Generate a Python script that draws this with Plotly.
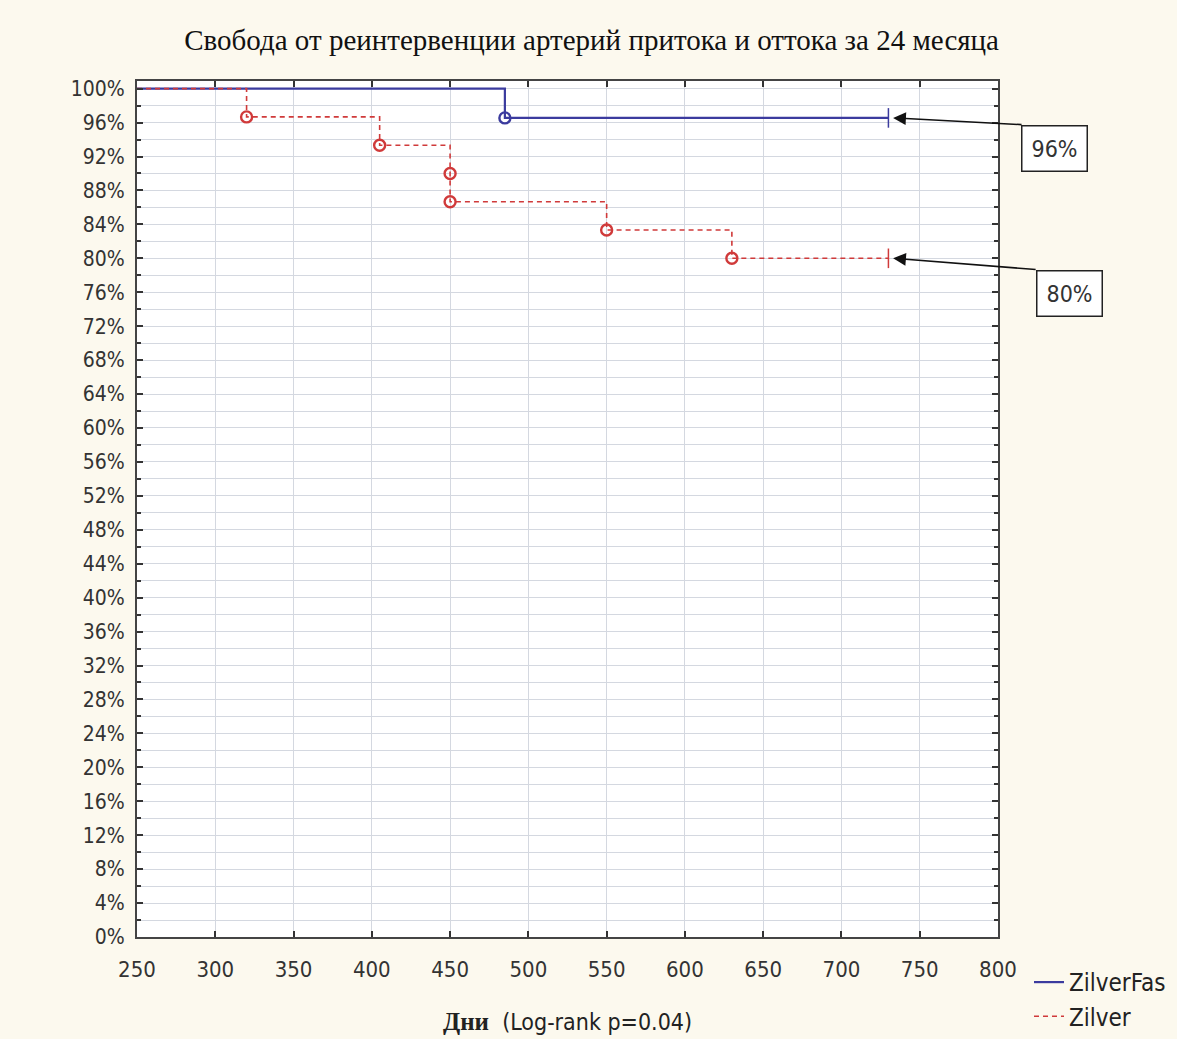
import plotly.graph_objects as go

# ---- data ----
zf_time = [250, 485, 730]
zf_surv = [100.0, 96.55, 96.55]
zf_event_time = [485]
zf_event_surv = [96.55]

z_time = [250, 320, 405, 450, 450, 550, 630, 730]
z_surv = [100.0, 96.67, 93.33, 90.0, 86.67, 83.33, 80.0, 80.0]
z_event_time = [320, 405, 450, 450, 550, 630]
z_event_surv = [96.67, 93.33, 90.0, 86.67, 83.33, 80.0]

censor_time = [730]
x_ticks = list(range(250, 801, 50))
y_ticks = list(range(0, 101, 4))
y_tick_labels = [f"{v}%" for v in y_ticks]

title_text = "Свобода от реинтервенции артерий притока и оттока за 24 месяца"
xlabel_html = ('<span style="font-family:Liberation Serif;font-size:25px"><b>Дни</b></span>'
               '  (Log-rank p=0.04)')
label_zf = "96%"
label_z = "80%"

BLUE = "#3b3b9e"
RED = "#d03a3a"
NARROW = "Liberation Sans Narrow, Arial Narrow, DejaVu Sans Condensed, sans-serif"

fig = go.Figure()

fig.add_trace(go.Scatter(x=zf_time, y=zf_surv, mode="lines", line_shape="hv",
                         line=dict(color=BLUE, width=2.2), name="ZilverFas"))
fig.add_trace(go.Scatter(x=z_time, y=z_surv, mode="lines", line_shape="hv",
                         line=dict(color=RED, width=1.6, dash="5px,4px"), name="Zilver"))
fig.add_trace(go.Scatter(x=zf_event_time, y=zf_event_surv, mode="markers", showlegend=False,
                         marker=dict(symbol="circle-open", size=11, color=BLUE,
                                     line=dict(width=2.4, color=BLUE))))
fig.add_trace(go.Scatter(x=z_event_time, y=z_event_surv, mode="markers", showlegend=False,
                         marker=dict(symbol="circle-open", size=11, color=RED,
                                     line=dict(width=2.4, color=RED))))
fig.add_trace(go.Scatter(x=censor_time, y=[zf_surv[-1]], mode="markers", showlegend=False,
                         marker=dict(symbol="line-ns", size=14, line=dict(width=1.5, color=BLUE))))
fig.add_trace(go.Scatter(x=censor_time, y=[z_surv[-1]], mode="markers", showlegend=False,
                         marker=dict(symbol="line-ns", size=14, line=dict(width=1.5, color=RED))))

annotations = [
    dict(x=733, y=zf_surv[-1], xref="x", yref="y", ax=816, ay=95.75, axref="x", ayref="y",
         text="", showarrow=True, arrowhead=2, arrowsize=1.6, arrowwidth=1.6, arrowcolor="#111"),
    dict(x=733, y=z_surv[-1], xref="x", yref="y", ax=825, ay=78.66, axref="x", ayref="y",
         text="", showarrow=True, arrowhead=2, arrowsize=1.6, arrowwidth=1.6, arrowcolor="#111"),
    dict(x=1.066, y=0.9217, xref="paper", yref="paper", text=label_zf, showarrow=False,
         xanchor="center", yanchor="middle",
         font=dict(family=NARROW, size=23, color="#333"), bgcolor="white",
         bordercolor="#222", borderwidth=1.5, borderpad=9),
    dict(x=1.0825, y=0.7523, xref="paper", yref="paper", text=label_z, showarrow=False,
         xanchor="center", yanchor="middle",
         font=dict(family=NARROW, size=23, color="#333"), bgcolor="white",
         bordercolor="#222", borderwidth=1.5, borderpad=9),
    dict(x=0.5, y=-0.099, xref="paper", yref="paper", text=xlabel_html, showarrow=False,
         font=dict(family=NARROW, size=23, color="#222"), xanchor="center", yanchor="middle"),
]

fig.update_layout(
    width=1177, height=1039,
    margin=dict(l=137, r=179, t=81, b=102, autoexpand=False),
    paper_bgcolor="#fcf9ee", plot_bgcolor="white",
    title=dict(text=title_text, x=0.528, xref="paper", y=1 - 40 / 1039, yref="container",
               yanchor="middle", xanchor="center",
               font=dict(family="Liberation Serif, Times New Roman, serif", size=29, color="#111")),
    showlegend=True,
    legend=dict(x=1.036, y=0.0, xref="paper", yref="container", xanchor="left",
                yanchor="bottom", bgcolor="rgba(0,0,0,0)",
                font=dict(family=NARROW, size=24, color="#222"), tracegroupgap=0,
                itemwidth=30),
    annotations=annotations,
    font=dict(family=NARROW, color="#333"),
)

fig.update_xaxes(range=[250, 800], tickvals=x_ticks, ticks="inside", ticklen=6, tickwidth=1.5,
                 tickcolor="#333", showline=True, linecolor="#444", linewidth=2, mirror="ticks",
                 showgrid=True, gridcolor="#d4d8e0", gridwidth=1, zeroline=False,
                 ticklabelstandoff=12, automargin=False,
                 tickfont=dict(family=NARROW, size=22, color="#333"))
fig.update_yaxes(range=[0, 100.9], tickvals=y_ticks, ticktext=y_tick_labels, ticks="inside",
                 ticklen=6, tickwidth=1.5, tickcolor="#333", showline=True, linecolor="#444",
                 linewidth=2, mirror="ticks", showgrid=True, gridcolor="#d4d8e0", gridwidth=1,
                 zeroline=False, ticklabelstandoff=6, automargin=False,
                 minor=dict(dtick=2, tick0=0, showgrid=True, gridcolor="#d4d8e0",
                            ticks="inside", ticklen=4, tickcolor="#333"),
                 tickfont=dict(family=NARROW, size=21, color="#333"))

fig.write_html("out.html", config={"displayModeBar": False},
               post_script="document.body.style.margin='0px';")
